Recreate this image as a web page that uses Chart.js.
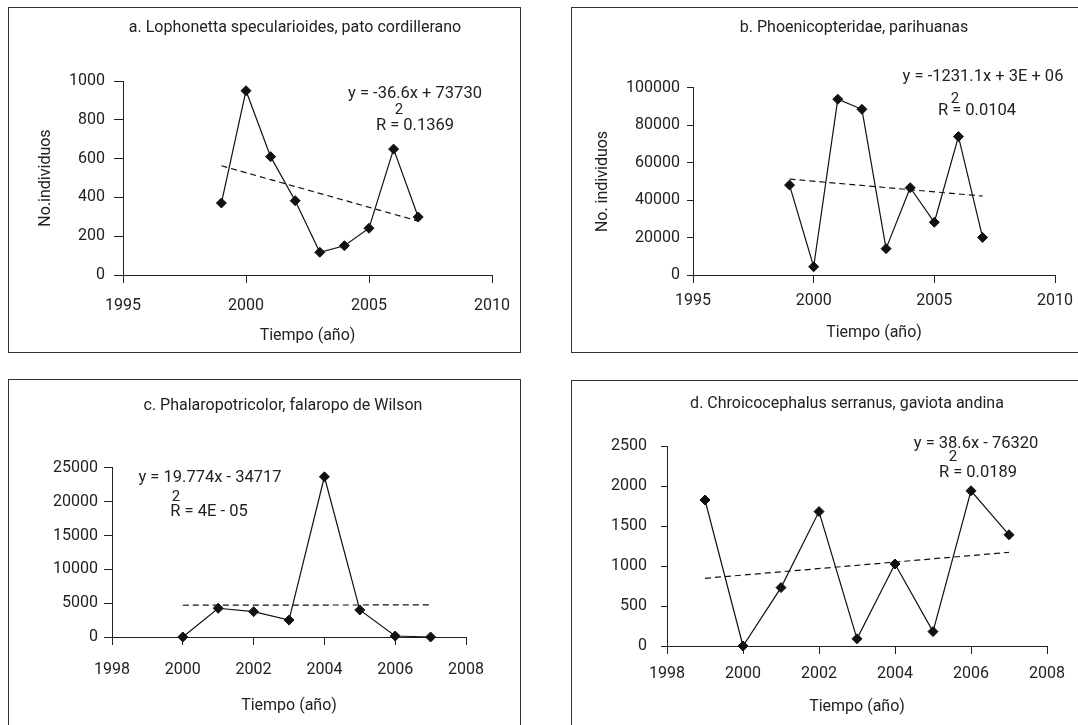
<!DOCTYPE html>
<html lang="es">
<head>
<meta charset="utf-8">
<title>Tendencias poblacionales de aves</title>
<script src="https://cdn.jsdelivr.net/npm/chart.js@4.4.1/dist/chart.umd.min.js"></script>
<style>
    body { margin: 0; background: #fff; width: 1078px; height: 725px; overflow: hidden; position: relative; }
    .caixa { position: absolute; box-sizing: border-box; border: 1px solid #333; }
    canvas { position: absolute; }
</style>
</head>
<body>
<div class="caixa" id="caixaA"></div>
<div class="caixa" id="caixaB"></div>
<div class="caixa" id="caixaC"></div>
<div class="caixa" id="caixaD"></div>
<canvas id="graficoA"></canvas>
<canvas id="graficoB"></canvas>
<canvas id="graficoC"></canvas>
<canvas id="graficoD"></canvas>
<script>
// --- Dados ---

// a. pato cordillerano
const anosA = [1999, 2000, 2001, 2002, 2003, 2004, 2005, 2006, 2007];
const valoresA = [371, 950, 610, 383, 117, 151, 241, 649, 299];
const anosTendA = [1999, 2007];
const tendenciaA = [563, 278];
const ticksXA = [1995, 2000, 2005, 2010];
const ticksYA = [0, 200, 400, 600, 800, 1000];
const equacaoA = ['y = -36.6x + 73730', '2', 'R = 0.1369'];

// b. parihuanas
const anosB = [1999, 2000, 2001, 2002, 2003, 2004, 2005, 2006, 2007];
const valoresB = [48100, 4400, 94000, 88600, 14100, 46700, 28200, 74000, 20100];
const anosTendB = [1999, 2007];
const tendenciaB = [51300, 42200];
const ticksXB = [1995, 2000, 2005, 2010];
const ticksYB = [0, 20000, 40000, 60000, 80000, 100000];
const equacaoB = ['y = -1231.1x + 3E + 06', '2', 'R = 0.0104'];

// c. falaropo de Wilson
const anosC = [2000, 2001, 2002, 2003, 2004, 2005, 2006, 2007];
const valoresC = [0, 4250, 3750, 2500, 23700, 4000, 150, 0];
const anosTendC = [2000, 2007];
const tendenciaC = [4700, 4750];
const ticksXC = [1998, 2000, 2002, 2004, 2006, 2008];
const ticksYC = [0, 5000, 10000, 15000, 20000, 25000];
const equacaoC = ['y = 19.774x - 34717', '2', 'R = 4E - 05'];

// d. gaviota andina
const anosD = [1999, 2000, 2001, 2002, 2003, 2004, 2005, 2006, 2007];
const valoresD = [1825, 0, 730, 1680, 90, 1025, 180, 1940, 1390];
const anosTendD = [1999, 2007];
const tendenciaD = [846, 1171];
const ticksXD = [1998, 2000, 2002, 2004, 2006, 2008];
const ticksYD = [0, 500, 1000, 1500, 2000, 2500];
const equacaoD = ['y = 38.6x - 76320', '2', 'R = 0.0189'];

const FONTE = 'Roboto, "Noto Sans", Arial, sans-serif';
const COR_TEXTO = '#222';

// --- Plugin para as equações da reta de tendência ---
const pluginEquacao = {
    id: 'equacao',
    afterDraw(chart, args, opts) {
        const ctx = chart.ctx;
        ctx.save();
        ctx.fillStyle = COR_TEXTO;
        ctx.textAlign = 'center';
        ctx.textBaseline = 'middle';
        opts.linhas.forEach(l => {
            ctx.font = l.tamanho + 'px ' + FONTE;
            ctx.fillText(l.texto, l.x, l.y);
        });
        ctx.restore();
    }
};

// monta os pontos {x, y} a partir de dois arrays
function pontos(xs, ys) {
    return xs.map((x, i) => ({ x: x, y: ys[i] }));
}

/**
 * Cria um painel: caixa com borda + gráfico de linha com tendência
 */
function criarPainel(p) {
    // caixa com borda
    const caixa = document.getElementById(p.caixaId);
    caixa.style.left = p.caixa.l + 'px';
    caixa.style.top = p.caixa.t + 'px';
    caixa.style.width = (p.caixa.r - p.caixa.l) + 'px';
    caixa.style.height = (p.caixa.b - p.caixa.t) + 'px';

    const canvas = document.getElementById(p.id);
    const cw = p.tela.r - p.tela.l;
    const ch = p.tela.b - p.tela.t;
    canvas.style.left = p.tela.l + 'px';
    canvas.style.top = p.tela.t + 'px';
    canvas.width = cw;
    canvas.height = ch;

    const lhTitulo = 16 * 1.2;
    const lhEixo = 16 * 1.2;
    const padTitulo = p.tituloY - p.tela.t - lhTitulo / 2;

    const linhas = p.equacao.map((texto, i) => ({
        texto: texto,
        tamanho: i === 1 ? 15 : 16.5,
        x: p.posEq[i][0] - p.tela.l,
        y: p.posEq[i][1] - p.tela.t
    }));

    return new Chart(canvas.getContext('2d'), {
        type: 'line',
        data: {
            datasets: [
                {
                    label: 'Tendencia',
                    data: pontos(p.anosTend, p.tendencia),
                    borderColor: '#111',
                    borderWidth: 1.2,
                    borderDash: [6, 4],
                    pointRadius: 0,
                    fill: false,
                    clip: false
                },
                {
                    label: 'No. individuos',
                    data: pontos(p.anos, p.valores),
                    borderColor: '#111',
                    backgroundColor: '#111',
                    borderWidth: 1.2,
                    pointStyle: 'rectRot',
                    pointRadius: 5,
                    pointBorderWidth: 1,
                    pointBackgroundColor: '#111',
                    pointBorderColor: '#111',
                    tension: 0,
                    fill: false,
                    clip: false
                }
            ]
        },
        options: {
            responsive: false,
            animation: false,
            events: [],
            layout: { padding: 0 },
            plugins: {
                legend: { display: false },
                tooltip: { enabled: false },
                title: {
                    display: true,
                    text: p.titulo,
                    color: COR_TEXTO,
                    font: { family: FONTE, size: 16, weight: 'normal', lineHeight: 1.2 },
                    padding: { top: padTitulo, bottom: p.area.t - p.tela.t - padTitulo - lhTitulo }
                },
                equacao: { linhas: linhas }
            },
            scales: {
                x: {
                    type: 'linear',
                    min: p.ticksX[0],
                    max: p.ticksX[p.ticksX.length - 1],
                    afterFit: s => {
                        s.height = p.tela.b - p.area.b;
                        // espaço à direita do eixo (sem encolher o título)
                        s.paddingRight = p.tela.r - p.area.r;
                    },
                    ticks: {
                        stepSize: p.ticksX[1] - p.ticksX[0],
                        color: COR_TEXTO,
                        padding: p.padX,
                        maxRotation: 0,
                        font: { family: FONTE, size: 16, lineHeight: 1.2 },
                        callback: v => String(v)
                    },
                    grid: { drawOnChartArea: false, drawTicks: true, tickLength: 8, color: '#222' },
                    border: { display: true, color: '#222', width: 1 },
                    title: {
                        display: true,
                        text: 'Tiempo (año)',
                        color: COR_TEXTO,
                        font: { family: FONTE, size: 16, lineHeight: 1.2 },
                        padding: { top: 0, bottom: p.tela.b - p.tituloXY - lhEixo / 2 }
                    }
                },
                y: {
                    type: 'linear',
                    min: p.ticksY[0],
                    max: p.ticksY[p.ticksY.length - 1],
                    afterFit: s => { s.width = p.area.l - p.tela.l; },
                    ticks: {
                        stepSize: p.ticksY[1] - p.ticksY[0],
                        color: COR_TEXTO,
                        padding: p.padY,
                        font: { family: FONTE, size: 16, lineHeight: 1.2 },
                        callback: v => String(v)
                    },
                    grid: { drawOnChartArea: false, drawTicks: true, tickLength: p.tickY, color: '#222' },
                    border: { display: true, color: '#222', width: 1 },
                    title: {
                        display: !!p.tituloY2,
                        text: p.tituloY2 || '',
                        color: COR_TEXTO,
                        font: { family: FONTE, size: 16, lineHeight: 1.2 },
                        padding: { top: p.tituloY2X ? p.tituloY2X - p.tela.l - lhEixo / 2 : 0, bottom: 0 }
                    }
                }
            }
        },
        plugins: [pluginEquacao]
    });
}

// --- Execução ---

criarPainel({
    id: 'graficoA', caixaId: 'caixaA',
    caixa: { l: 8, t: 7, r: 521, b: 353 },
    tela: { l: 30, t: 8, r: 560, b: 352 },
    area: { l: 123, t: 81, r: 492, b: 275 },
    titulo: 'a. Lophonetta specularioides, pato cordillerano', tituloY: 28,
    tituloY2: 'No.individuos', tituloY2X: 46, tituloXY: 336,
    anos: anosA, valores: valoresA, anosTend: anosTendA, tendencia: tendenciaA,
    ticksX: ticksXA, ticksY: ticksYA, padX: 12.9, padY: 9, tickY: 9,
    equacao: equacaoA, posEq: [[415, 94], [399, 110], [415, 126]]
});

criarPainel({
    id: 'graficoB', caixaId: 'caixaB',
    caixa: { l: 571, t: 7, r: 1120, b: 353 },
    tela: { l: 590, t: 8, r: 1118, b: 352 },
    area: { l: 693, t: 88, r: 1055, b: 275 },
    titulo: 'b. Phoenicopteridae, parihuanas', tituloY: 28,
    tituloY2: 'No. individuos', tituloY2X: 603, tituloXY: 333,
    anos: anosB, valores: valoresB, anosTend: anosTendB, tendencia: tendenciaB,
    ticksX: ticksXB, ticksY: ticksYB, padX: 8.4, padY: 7, tickY: 6,
    equacao: equacaoB, posEq: [[983, 77], [955, 99], [977, 111]]
});

criarPainel({
    id: 'graficoC', caixaId: 'caixaC',
    caixa: { l: 8, t: 379, r: 521, b: 760 },
    tela: { l: 30, t: 380, r: 536, b: 725 },
    area: { l: 112, t: 468, r: 466, b: 637 },
    titulo: 'c. Phalaropotricolor, falaropo de Wilson', tituloY: 406,
    tituloY2: null, tituloY2X: null, tituloXY: 706,
    anos: anosC, valores: valoresC, anosTend: anosTendC, tendencia: tendenciaC,
    ticksX: ticksXC, ticksY: ticksYC, padX: 15.4, padY: 6, tickY: 8,
    equacao: equacaoC, posEq: [[210, 478], [176, 497], [209, 512]]
});

criarPainel({
    id: 'graficoD', caixaId: 'caixaD',
    caixa: { l: 571, t: 380, r: 1120, b: 760 },
    tela: { l: 600, t: 381, r: 1094, b: 725 },
    area: { l: 667, t: 446, r: 1047, b: 646 },
    titulo: 'd. Chroicocephalus serranus, gaviota andina', tituloY: 404,
    tituloY2: null, tituloY2X: null, tituloXY: 707,
    anos: anosD, valores: valoresD, anosTend: anosTendD, tendencia: tendenciaD,
    ticksX: ticksXD, ticksY: ticksYD, padX: 10.4, padY: 14, tickY: 6,
    equacao: equacaoD, posEq: [[976, 444], [953, 457], [978, 473]]
});
</script>
</body>
</html>
